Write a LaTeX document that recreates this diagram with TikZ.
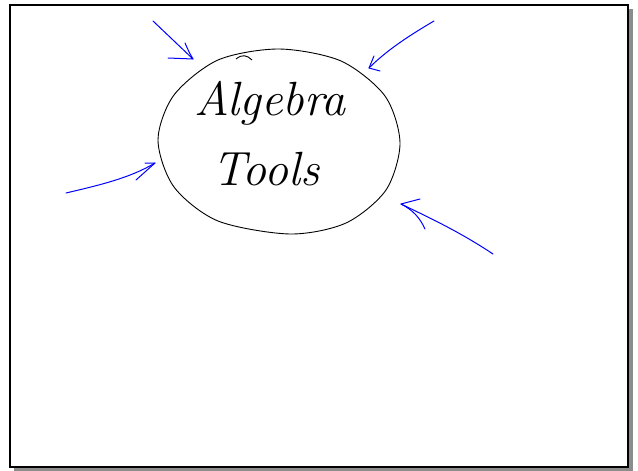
\documentclass[tikz,border=0pt]{standalone}
\usepackage{fontspec}
\tikzset{
  frame/.style={draw=black, line width=2pt, fill=white},
  shadowbox/.style={fill=black!45, draw=none},
  outline/.style={draw=black, line width=0.9pt},
  pen/.style={draw=blue, line width=1pt, line cap=round, line join=round},
  hand/.style={font=\fontsize{48}{56}\selectfont\itshape, inner sep=0pt, anchor=base}
}
\begin{document}
\begin{tikzpicture}[x=1pt,y=-1pt]
\useasboundingbox (0,0) rectangle (638,471);
% frame with shadow
\path[shadowbox] (14,9) rectangle (633,471);
\path[frame] (10,5) rectangle (628,467);
% hand-drawn oval
\draw[outline] plot[smooth cycle] coordinates {
 (400,143) (385,96) (341,61) (279,49) (218,60) (174,95) (158,140)
 (174,187) (218,221) (290,234) (346,223) (386,190)};
\draw[outline] (236,59) .. controls (242,54) and (247,55) .. (252,60);
% texts
\node[hand] (alg) at (270,115) {Algebra};
\node[hand] (tools) at (266,185) {Tools};
% arrows
\coordinate (a1s) at (153,21); \coordinate (a1t) at (193,59);
\coordinate (a2s) at (434,21); \coordinate (a2t) at (369,68);
\coordinate (a3s) at (66,193); \coordinate (a3t) at (155,163);
\coordinate (a4s) at (493,254); \coordinate (a4t) at (401,204);
\draw[pen] (a1s) -- (a1t) -- (168,58);
\draw[pen] (a1t) .. controls (189,52) .. (185,43);
\draw[pen] (a2s) .. controls (405,38) and (385,52) .. (a2t);
\draw[pen] (374,56) -- (a2t) -- (380,71);
\draw[pen] (a3s) .. controls (100,185) and (130,178) .. (a3t);
\draw[pen] (145,163) -- (a3t) -- (136,180);
\draw[pen] (a4s) .. controls (460,232) and (430,218) .. (a4t);
\draw[pen] (420,199) -- (a4t) .. controls (413,210) and (420,218) .. (425,229);
\end{tikzpicture}
\end{document}
